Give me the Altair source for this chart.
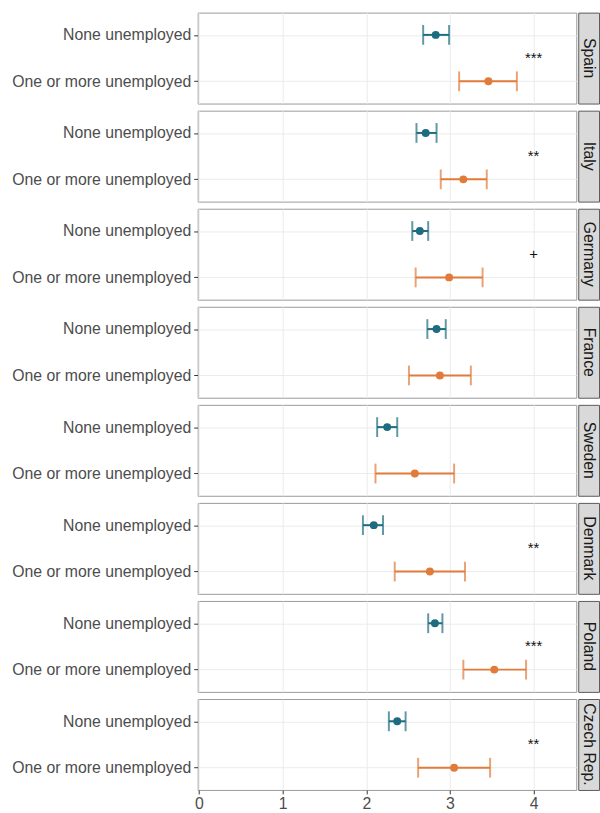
import altair as alt
import pandas as pd

countries = ["Spain", "Italy", "Germany", "France", "Sweden", "Denmark", "Poland", "Czech Rep."]
groups = ["None unemployed", "One or more unemployed"]

# point estimates and 95% intervals per country: [none, one or more]
est = {
    "Spain": [2.83, 3.46],
    "Italy": [2.71, 3.16],
    "Germany": [2.64, 2.99],
    "France": [2.84, 2.88],
    "Sweden": [2.25, 2.58],
    "Denmark": [2.09, 2.76],
    "Poland": [2.82, 3.53],
    "Czech Rep.": [2.37, 3.05],
}
lo = {
    "Spain": [2.68, 3.11],
    "Italy": [2.60, 2.89],
    "Germany": [2.55, 2.59],
    "France": [2.73, 2.51],
    "Sweden": [2.13, 2.11],
    "Denmark": [1.96, 2.34],
    "Poland": [2.74, 3.16],
    "Czech Rep.": [2.27, 2.62],
}
hi = {
    "Spain": [2.99, 3.80],
    "Italy": [2.84, 3.44],
    "Germany": [2.74, 3.39],
    "France": [2.95, 3.25],
    "Sweden": [2.37, 3.05],
    "Denmark": [2.20, 3.18],
    "Poland": [2.91, 3.91],
    "Czech Rep.": [2.47, 3.48],
}
# significance of the difference between the two groups
stars = {
    "Spain": "***",
    "Italy": "**",
    "Germany": "+",
    "France": "",
    "Sweden": "",
    "Denmark": "**",
    "Poland": "***",
    "Czech Rep.": "**",
}
star_x = 4

TEAL = "#1D6C80"
ORANGE = "#E07B3A"
FONT = "Liberation Sans"
PANEL_W = 383
PANEL_H = 92
STRIP_W = 21
X_DOMAIN = [-0.015, 4.51]

color = alt.Color("group:N", scale=alt.Scale(domain=groups, range=[TEAL, ORANGE]), legend=None)


def panel(country, last):
    df = pd.DataFrame({
        "group": groups,
        "est": est[country],
        "lo": lo[country],
        "hi": hi[country],
    })
    if last:
        xaxis = alt.Axis(title=None, grid=True, gridColor="#EBEBEB", domain=False, format="d",
                         ticks=True, tickColor="#333333", tickSize=4, values=[0, 1, 2, 3, 4],
                         labelFontSize=16, labelColor="#4D4D4D", labelFont=FONT, labelPadding=2)
    else:
        xaxis = alt.Axis(title=None, grid=True, gridColor="#EBEBEB", domain=False,
                         ticks=False, labels=False, labelPadding=0, values=[0, 1, 2, 3, 4])
    x_scale = alt.Scale(domain=X_DOMAIN, nice=False, zero=False)
    y = alt.Y("group:N", sort=groups, scale=alt.Scale(type="point", padding=0.48),
              axis=alt.Axis(title=None, grid=True, gridColor="#EBEBEB", domain=False,
                            tickColor="#333333", tickSize=4, labelFontSize=16, labelLimit=0,
                            labelColor="#4D4D4D", labelFont=FONT, labelPadding=3))
    base = alt.Chart(df)
    bars = base.mark_rule(strokeWidth=2).encode(
        x=alt.X("lo:Q", scale=x_scale, axis=xaxis), x2="hi:Q", y=y, color=color)
    cap_lo = base.mark_tick(thickness=2, size=20).encode(x="lo:Q", y=y, color=color)
    cap_hi = base.mark_tick(thickness=2, size=20).encode(x="hi:Q", y=y, color=color)
    pts = base.mark_circle(size=64, opacity=1).encode(x="est:Q", y=y, color=color)
    layers = [bars, cap_lo, cap_hi, pts]
    if stars[country]:
        sdf = pd.DataFrame({"x": [star_x], "label": [stars[country]]})
        txt = alt.Chart(sdf).mark_text(fontSize=15, font=FONT, color="#111111",
                                       align="center", baseline="middle").encode(
            x="x:Q", y=alt.value(PANEL_H / 2), text="label:N")
        layers.append(txt)
    return alt.layer(*layers).properties(
        width=PANEL_W, height=PANEL_H,
        view=alt.ViewBackground(stroke="#9A9A9A", strokeWidth=1, fill="white"))


def strip(country):
    df = pd.DataFrame({"country": [country]})
    return alt.Chart(df).mark_text(fontSize=16, font=FONT, color="#1A1A1A", angle=90,
                                   align="center", baseline="middle").encode(
        x=alt.value(STRIP_W / 2), y=alt.value(PANEL_H / 2), text="country:N"
    ).properties(width=STRIP_W, height=PANEL_H,
                 view=alt.ViewBackground(fill="#D9D9D9", stroke="#5A5A5A", strokeWidth=1))


rows = []
for i, c in enumerate(countries):
    rows.append(alt.hconcat(panel(c, i == len(countries) - 1), strip(c), spacing=0))

chart = alt.vconcat(*rows, spacing=5.2).properties(
    padding={"left": 11, "top": 7, "right": 0, "bottom": 0},
    background="white",
)

chart.save("out.html", embed_options={"renderer": "svg", "actions": False})
